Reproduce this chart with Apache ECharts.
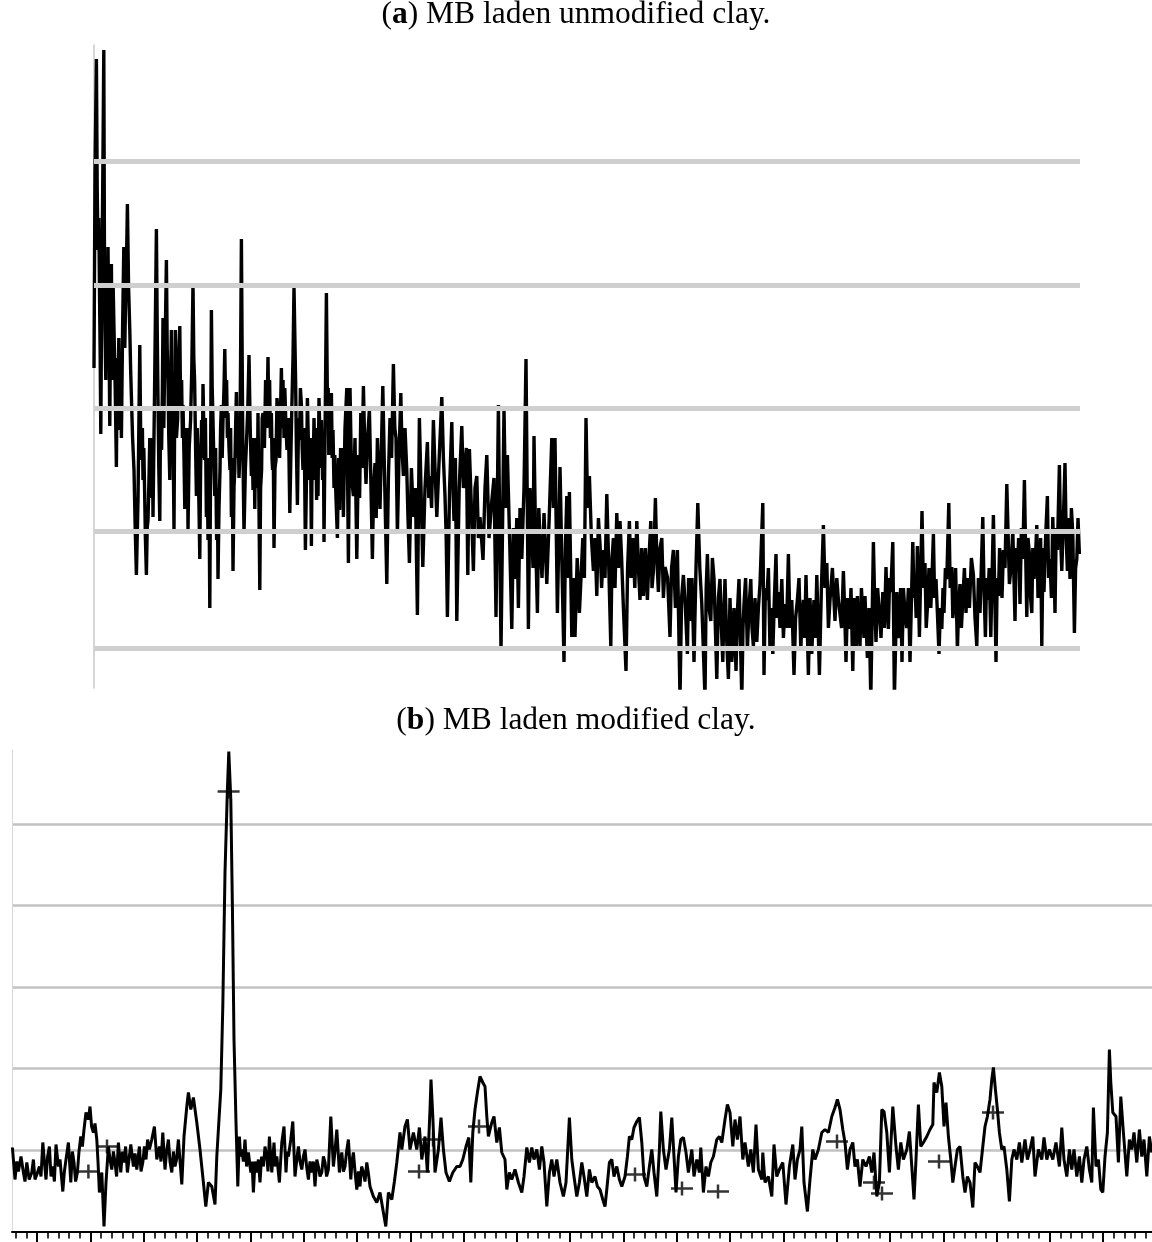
<!DOCTYPE html>
<html><head><meta charset="utf-8">
<script src="https://cdn.jsdelivr.net/npm/echarts@6/dist/echarts.min.js"></script>
<style>html,body{margin:0;padding:0;background:#fff}#c{width:1152px;height:1242px}</style>
</head><body><div id="c"></div>
<script>
const titleA = '({b|a}) MB laden unmodified clay.';
const titleB = '({b|b}) MB laden modified clay.';

// panel (a): [2θ, intensity]
const aPattern = [
[4.70,320],[4.75,515],[4.82,629],[4.86,500],[4.90,438],[4.94,470],[4.98,388],[5.01,330],[5.04,254],[5.08,380],[5.13,488],[5.16,560],[5.19,638],[5.22,450],[5.25,358],[5.29,308],[5.32,420],[5.35,388],[5.37,330],[5.40,441],[5.45,350],[5.49,262],[5.53,380],[5.57,424],[5.60,340],[5.63,308],[5.66,400],[5.70,358],[5.76,300],[5.82,221],[5.86,330],[5.90,291],[5.94,350],[5.98,258],[6.02,320],[6.07,250],[6.13,360],[6.19,441],[6.24,340],[6.28,388],[6.32,420],[6.37,484],[6.43,400],[6.49,358],[6.53,320],[6.57,291],[6.63,250],[6.70,218],[6.76,160],[6.82,113],[6.90,188],[6.99,343],[7.03,260],[7.08,228],[7.12,260],[7.15,208],[7.19,240],[7.23,198],[7.27,150],[7.32,113],[7.36,160],[7.40,168],[7.45,210],[7.49,250],[7.53,190],[7.58,208],[7.62,250],[7.65,171],[7.73,300],[7.82,459],[7.86,360],[7.90,288],[7.94,220],[7.99,167],[8.03,280],[8.08,238],[8.12,300],[8.15,370],[8.19,260],[8.23,318],[8.27,360],[8.32,428],[8.36,340],[8.40,308],[8.44,250],[8.49,208],[8.53,300],[8.57,358],[8.60,250],[8.63,288],[8.67,220],[8.70,158],[8.73,260],[8.77,358],[8.82,250],[8.88,268],[8.93,330],[8.99,362],[9.03,280],[9.08,308],[9.12,250],[9.15,283],[9.20,230],[9.24,179],[9.28,260],[9.33,218],[9.37,260],[9.40,158],[9.46,240],[9.53,268],[9.59,320],[9.65,405],[9.69,330],[9.73,308],[9.78,240],[9.82,192],[9.86,260],[9.90,228],[9.95,180],[9.99,129],[10.03,220],[10.08,268],[10.12,230],[10.15,304],[10.19,260],[10.23,228],[10.27,270],[10.32,171],[10.36,230],[10.40,148],[10.45,200],[10.49,80],[10.57,378],[10.61,300],[10.65,268],[10.70,220],[10.74,192],[10.78,240],[10.83,148],[10.87,200],[10.90,109],[10.95,180],[11.00,218],[11.03,260],[11.07,283],[11.11,230],[11.15,268],[11.20,300],[11.24,339],[11.29,270],[11.33,308],[11.37,250],[11.40,275],[11.45,240],[11.50,218],[11.53,260],[11.57,171],[11.61,230],[11.65,117],[11.70,200],[11.74,218],[11.78,260],[11.82,296],[11.86,230],[11.90,268],[11.95,210],[11.99,233],[12.03,330],[12.07,449],[12.13,268],[12.17,200],[12.20,154],[12.27,220],[12.33,248],[12.39,280],[12.45,333],[12.51,260],[12.57,212],[12.61,250],[12.65,198],[12.70,250],[12.74,179],[12.78,250],[12.83,228],[12.87,200],[12.90,275],[12.95,180],[12.99,98],[13.03,200],[13.08,218],[13.11,270],[13.15,275],[13.22,240],[13.28,308],[13.34,260],[13.40,331],[13.44,270],[13.48,308],[13.52,250],[13.57,275],[13.60,230],[13.63,218],[13.66,250],[13.70,140],[13.75,220],[13.80,228],[13.85,290],[13.90,275],[13.98,230],[14.07,320],[14.11,260],[14.15,308],[14.20,250],[14.24,300],[14.30,260],[14.35,238],[14.42,270],[14.49,175],[14.55,240],[14.60,288],[14.65,330],[14.70,401],[14.78,308],[14.82,240],[14.87,183],[14.93,270],[14.98,248],[15.02,300],[15.07,283],[15.11,240],[15.15,218],[15.21,260],[15.27,138],[15.33,218],[15.37,290],[15.40,262],[15.44,230],[15.48,208],[15.52,250],[15.57,142],[15.61,240],[15.65,208],[15.70,270],[15.74,233],[15.79,260],[15.83,188],[15.87,240],[15.90,192],[15.95,290],[16.00,248],[16.04,220],[16.07,268],[16.10,240],[16.13,208],[16.17,250],[16.20,146],[16.26,270],[16.32,395],[16.38,268],[16.41,300],[16.44,233],[16.50,250],[16.57,295],[16.61,230],[16.65,258],[16.70,200],[16.74,233],[16.80,190],[16.87,150],[16.93,230],[16.98,178],[17.03,240],[17.07,196],
[17.12,240],[17.17,171],[17.25,260],[17.34,300],[17.42,125],[17.50,300],[17.58,210],[17.67,192],[17.75,250],[17.84,129],[17.92,233],[17.98,190],[18.04,275],[18.10,220],[18.17,302],[18.24,240],[18.30,204],[18.38,250],[18.47,279],[18.55,200],[18.62,129],[18.68,200],[18.75,225],[18.81,170],[18.87,250],[18.94,210],[19.00,179],[19.07,240],[19.14,302],[19.24,200],[19.34,104],[19.42,210],[19.50,270],[19.58,230],[19.67,324],[19.74,260],[19.80,250],[19.87,154],[19.95,230],[20.04,295],[20.10,240],[20.17,212],[20.25,260],[20.34,217],[20.40,170],[20.47,125],[20.57,220],[20.67,171],[20.77,200],[20.87,73],[20.97,270],[21.05,200],[21.14,121],[21.25,200],[21.37,246],[21.44,190],[21.50,212],[21.58,180],[21.67,268],[21.75,220],[21.84,171],[21.96,230],[22.09,291],[22.17,230],[22.25,192],[22.31,150],[22.37,71],[22.48,200],[22.59,266],[22.65,200],[22.70,167],[22.77,230],[22.84,67],[22.96,200],[23.09,262],[23.17,200],[23.25,200],[23.32,240],[23.39,113],[23.47,239],[23.57,180],[23.67,117],[23.75,200],[23.84,212],[23.92,150],[24.00,171],[24.15,128],[24.25,200],[24.34,233],[24.45,150],[24.59,187],[24.70,210],[24.80,71],[24.92,283],[25.05,38],[25.20,279],[25.28,180],[25.37,233],[25.48,150],[25.59,59],[25.67,160],[25.75,109],[25.84,170],[25.92,80],[26.00,180],[26.09,129],[26.20,200],[26.30,329],[26.42,59],[26.50,200],[26.59,158],[26.65,120],[26.70,252],[26.78,150],[26.87,75],[26.94,180],[27.00,150],[27.10,110],[27.20,175],[27.27,140],[27.34,104],[27.46,170],[27.59,250],[27.67,180],[27.75,250],[27.87,75],[27.94,150],[28.00,221],[28.10,120],[28.20,26],[28.27,140],[28.34,192],[28.40,110],[28.47,196],[28.59,51],[28.67,110],[28.75,51],[28.86,130],[28.97,75],[29.05,110],[29.14,150],[29.22,110],[29.30,270],[29.38,180],[29.47,212],[29.57,150],
[29.67,117],[29.75,150],[29.84,92],[29.92,170],[30.00,144],[30.08,100],[30.17,138],[30.25,110],[30.34,194],[30.44,120],[30.54,42],[30.60,130],[30.67,150],[30.75,100],[30.84,175],[30.92,120],[31.00,167],[31.08,130],[31.17,80],[31.30,17],[31.38,120],[31.47,167],[31.55,110],[31.64,150],[31.74,100],[31.84,167],[31.92,120],[32.00,88],[32.08,140],[32.17,92],[32.27,140],[32.37,88],[32.45,130],[32.54,167],[32.60,100],[32.67,117],[32.77,190],[32.84,130],[32.92,96],[33.00,140],[33.09,150],[33.17,90],[33.25,121],[33.38,110],[33.50,51],[33.58,120],[33.67,138],[33.77,80],[33.87,138],[34.00,-10],[34.08,90],[34.17,113],[34.27,80],[34.37,34],[34.43,110],[34.50,67],[34.60,110],[34.70,26],[34.80,120],[34.89,185],[34.99,120],[35.09,84],[35.25,-10],[35.31,100],[35.37,134],[35.45,80],[35.54,67],[35.62,130],[35.70,109],[35.84,9],[35.92,90],[36.00,109],[36.07,60],[36.14,26],[36.20,80],[36.25,109],[36.33,50],[36.42,9],[36.50,90],[36.59,26],[36.70,80],[36.80,17],[36.88,80],[36.95,109],[37.09,-10],[37.15,60],[37.20,84],[37.28,110],[37.37,38],[37.45,80],[37.54,109],[37.60,60],[37.67,42],[37.75,90],[37.84,46],[37.92,80],[38.00,104],[38.14,185],[38.20,13],[38.27,100],[38.34,88],[38.42,120],[38.50,38],[38.57,80],[38.64,34],[38.72,90],[38.80,134],[38.86,70],[38.92,96],[39.00,60],[39.09,109],[39.17,50],[39.25,84],[39.33,60],[39.42,134],[39.50,60],[39.59,88],[39.70,13],[39.78,70],[39.87,88],[39.95,110],[40.04,38],[40.10,70],[40.17,88],[40.23,50],[40.30,113],[40.42,13],[40.50,90],[40.59,34],[40.65,70],[40.70,88],[40.77,50],[40.84,113],[40.97,13],[41.07,100],[41.17,163],[41.25,100],[41.34,125],[41.42,60],[41.50,88],[41.62,120],[41.75,67],[41.84,110],[41.92,88],
[42.00,88],[42.08,60],[42.17,117],[42.23,80],[42.30,26],[42.38,90],[42.47,59],[42.55,100],[42.64,17],[42.70,90],[42.75,67],[42.81,40],[42.87,92],[42.93,60],[43.00,42],[43.07,100],[43.14,75],[43.20,50],[43.25,92],[43.31,60],[43.37,30],[43.45,80],[43.54,-10],[43.67,146],[43.73,90],[43.80,46],[43.88,100],[43.97,75],[44.05,50],[44.14,96],[44.22,60],[44.30,121],[44.36,80],[44.42,59],[44.48,110],[44.54,96],[44.64,146],[44.72,-10],[44.84,96],[44.90,50],[44.97,67],[45.03,100],[45.10,26],[45.17,100],[45.25,75],[45.33,60],[45.42,100],[45.50,26],[45.64,146],[45.70,90],[45.75,104],[45.81,70],[45.87,142],[45.97,51],[46.10,177],[46.17,100],[46.25,125],[46.31,60],[46.37,80],[46.45,120],[46.54,80],[46.60,110],[46.67,154],[46.73,90],[46.80,109],[46.88,70],[46.95,34],[47.02,80],[47.09,59],[47.15,100],[47.20,75],[47.27,120],[47.34,109],[47.44,185],[47.51,100],[47.59,121],[47.64,70],[47.70,84],[47.78,120],[47.87,38],[47.93,80],[48.00,104],[48.07,60],[48.14,88],[48.22,120],[48.30,75],[48.38,110],[48.47,80],[48.57,130],[48.67,113],[48.75,70],[48.84,42],[48.92,110],[49.00,75],[49.14,171],[49.20,100],[49.27,51],[49.33,110],[49.39,88],[49.46,120],[49.54,51],[49.67,173],[49.80,26],[49.86,110],[49.92,92],[49.98,140],[50.04,121],[50.10,90],[50.17,138],[50.25,120],[50.34,204],[50.47,104],[50.55,120],[50.64,158],[50.75,67],[50.81,140],[50.87,117],[50.93,150],[51.00,84],[51.07,160],[51.14,129],[51.22,208],[51.34,71],[51.40,150],[51.47,134],[51.53,90],[51.59,75],[51.64,140],[51.70,109],[51.77,130],[51.84,163],[51.90,90],[51.97,109],[52.03,150],[52.09,42],[52.15,140],[52.20,96],[52.28,150],[52.37,192],[52.43,110],[52.50,129],[52.57,90],[52.64,171],[52.70,120],[52.75,75],[52.81,160],[52.87,138],[52.97,223],[53.03,150],[53.09,117],[53.17,170],[53.25,225],[53.31,150],[53.37,117],[53.43,170],[53.50,109],[53.57,180],[53.64,154],[53.72,55],[53.78,120],[53.84,129],[53.90,170],[53.97,134]
];
const aGridLevels = [526.5, 403.2, 280, 157, 39.3];

// panel (b): [2θ, intensity]
const bPattern = [
[0.62,84],[0.75,52],[0.84,70],[0.92,60],[1.05,75],[1.17,59],[1.25,50],[1.34,69],[1.46,52],[1.59,59],[1.67,72],[1.75,52],[1.86,58],[1.97,65],[2.05,55],[2.14,89],[2.22,70],[2.30,52],[2.38,75],[2.47,85],[2.55,55],[2.64,65],[2.72,50],[2.80,87],[2.92,65],[3.00,72],[3.14,40],[3.22,60],[3.30,72],[3.42,89],[3.54,49],[3.62,80],[3.70,69],[3.78,50],[3.87,59],[3.95,80],[4.04,95],[4.12,85],[4.20,102],[4.30,119],[4.42,112],[4.50,125],[4.58,105],[4.67,99],[4.75,108],[4.84,92],[4.90,70],[4.97,39],[5.09,59],[5.20,5],[5.30,49],[5.42,85],[5.50,72],[5.59,62],[5.67,80],[5.75,69],[5.83,55],[5.92,89],[6.04,59],[6.12,80],[6.20,69],[6.28,85],[6.37,59],[6.45,72],[6.54,87],[6.67,65],[6.75,78],[6.84,62],[6.97,85],[7.05,60],[7.14,69],[7.22,85],[7.30,72],[7.38,92],[7.47,82],[7.59,92],[7.72,105],[7.84,72],[7.97,85],[8.05,70],[8.14,99],[8.25,62],[8.33,80],[8.42,92],[8.50,70],[8.59,59],[8.67,80],[8.75,65],[8.83,72],[8.92,92],[9.09,47],[9.20,95],[9.34,125],[9.42,139],[9.54,122],[9.67,134],[9.84,109],[10.00,82],[10.17,49],[10.29,25],[10.42,49],[10.59,45],[10.75,27],[10.84,75],[10.92,102],[11.04,142],[11.14,225],[11.25,359],[11.37,442],[11.44,480],[11.54,432],[11.62,325],[11.70,192],[11.80,109],[11.89,45],[11.97,95],[12.03,75],[12.09,82],[12.17,70],[12.25,92],[12.33,65],[12.42,79],[12.54,59],[12.60,70],[12.67,39],[12.75,70],[12.84,59],[12.92,72],[13.00,49],[13.08,75],[13.17,65],[13.25,85],[13.34,75],[13.40,60],[13.47,95],[13.59,59],[13.70,89],[13.77,65],[13.84,75],[13.97,49],[14.03,70],[14.09,89],[14.20,105],[14.30,59],[14.36,80],[14.42,75],[14.54,92],[14.64,110],[14.75,55],[14.84,72],[14.92,85],[15.00,70],[15.09,62],[15.17,75],[15.25,82],[15.33,65],[15.42,52],[15.50,70],[15.59,59],[15.67,70],[15.75,45],[15.84,72],[15.92,65],[16.00,55],[16.09,59],[16.17,75],[16.25,69],[16.33,55],[16.42,62],[16.54,115],[16.67,65],[16.75,80],[16.84,102],[16.97,59],[17.03,72],[17.09,79],[17.17,60],[17.25,65],[17.33,80],[17.42,92],[17.54,52],[17.60,70],[17.67,79],[17.75,60],[17.84,42],[17.92,60],[18.00,45],[18.08,65],[18.17,59],[18.25,50],[18.34,69],[18.42,58],[18.50,45],[18.67,35],[18.84,29],[19.00,39],[19.17,19],[19.29,5],[19.42,39],[19.59,32],[19.72,50],[19.84,69],[20.00,99],[20.09,82],[20.25,105],[20.37,112],[20.50,82],[20.67,99],[20.84,82],[20.97,104],[21.09,72],[21.25,95],[21.37,59],[21.50,122],[21.55,152],[21.64,115],[21.75,59],[21.92,82],[22.05,114],[22.17,82],[22.30,59],[22.47,50],[22.64,59],[22.84,65],[23.00,65],[23.14,72],[23.30,85],[23.44,94],[23.54,49],[23.64,99],[23.75,122],[23.87,139],[24.00,155],[24.14,149],[24.25,145],[24.34,115],[24.42,95],[24.59,109],[24.70,115],[24.84,89],[24.97,104],[25.09,79],[25.25,72],[25.34,42],[25.47,59],[25.59,52],[25.75,62],[25.92,49],[26.09,39],[26.20,55],[26.34,84],[26.47,69],[26.59,84],[26.70,72],[26.84,82],[26.97,62],[27.09,85],[27.20,69],[27.34,25],[27.47,59],[27.59,72],[27.70,55],[27.84,72],[28.00,49],[28.17,35],[28.30,49],[28.47,114],[28.59,72],[28.70,55],[28.84,35],[28.97,49],[29.09,69],[29.20,55],[29.34,35],[29.47,62],[29.59,49],[29.75,55],[29.87,45],[30.00,42],[30.14,32],[30.25,25],[30.34,42],[30.47,69],[30.59,72],[30.70,55],[30.84,65],[30.97,52],[31.09,45],[31.25,55],[31.37,75],[31.47,95],[31.59,92],[31.70,104],[31.84,110],[31.97,114],[32.09,89],[32.20,55],[32.34,45],[32.47,65],[32.59,82],[32.70,59],[32.84,35],[32.97,82],[33.04,120],[33.17,82],[33.30,62],[33.47,82],[33.59,114],[33.70,75],[33.80,39],[33.92,75],[34.04,92],[34.17,94],[34.30,79],[34.42,59],[34.59,82],[34.70,55],[34.84,72],[34.97,59],[35.04,84],[35.17,39],[35.30,65],[35.42,55],[35.54,69],[35.67,75],[35.84,92],[35.97,95],[36.09,89],[36.25,112],[36.37,127],[36.50,119],[36.64,85],[36.75,112],[36.87,92],[37.00,115],[37.14,72],[37.25,89],[37.42,65],[37.54,82],[37.67,59],[37.80,107],[37.92,62],[38.09,52],[38.14,79],[38.25,49],[38.42,55],[38.59,35],[38.70,87],[38.84,55],[38.97,62],[39.14,69],[39.30,27],[39.47,65],[39.64,87],[39.75,52],[39.87,72],[40.00,82],[40.09,105],[40.20,49],[40.37,20],[40.50,52],[40.64,82],[40.75,72],[40.92,82],[41.09,99],[41.25,102],[41.42,99],[41.59,115],[41.75,124],[41.87,132],[42.00,122],[42.14,102],[42.25,89],[42.37,62],[42.50,82],[42.64,89],[42.75,65],[42.87,72],[43.00,45],[43.14,72],[43.30,65],[43.47,75],[43.59,59],[43.70,79],[43.84,35],[43.97,49],[44.09,122],[44.20,120],[44.34,99],[44.47,59],[44.64,125],[44.80,85],[44.92,62],[45.04,89],[45.17,72],[45.34,82],[45.47,100],[45.59,65],[45.70,32],[45.80,72],[45.92,127],[46.04,85],[46.17,89],[46.34,95],[46.50,102],[46.64,107],[46.70,149],[46.84,139],[46.97,159],[47.09,145],[47.20,105],[47.30,129],[47.42,95],[47.54,72],[47.64,49],[47.75,65],[47.87,82],[48.00,85],[48.14,55],[48.25,39],[48.37,55],[48.50,49],[48.64,24],[48.75,69],[48.87,65],[49.00,59],[49.14,85],[49.25,105],[49.37,115],[49.50,132],[49.59,152],[49.67,164],[49.77,142],[49.87,122],[49.97,99],[50.09,82],[50.20,85],[50.34,62],[50.47,30],[50.59,72],[50.70,82],[50.84,72],[50.97,89],[51.09,69],[51.25,92],[51.37,72],[51.50,82],[51.64,95],[51.75,55],[51.92,82],[52.09,72],[52.20,94],[52.34,72],[52.47,82],[52.64,72],[52.80,89],[52.97,65],[53.09,104],[53.20,72],[53.34,55],[53.47,82],[53.59,62],[53.70,82],[53.84,55],[53.97,75],[54.09,49],[54.20,72],[54.34,85],[54.47,62],[54.59,49],[54.67,124],[54.80,65],[54.92,72],[55.04,42],[55.14,39],[55.25,75],[55.37,99],[55.47,182],[55.54,149],[55.64,119],[55.80,115],[55.92,69],[56.04,135],[56.17,99],[56.34,55],[56.47,92],[56.59,82],[56.70,99],[56.84,69],[56.97,102],[57.09,75],[57.20,92],[57.34,55],[57.47,95],[57.59,79]
];
// reference peak markers (+) in panel (b)
const bRefPeaks = [[11.43,440],[4.42,60],[5.35,85],[20.95,60],[21.65,92],[23.95,105],[31.75,57],[34.10,43],[35.90,40],[41.85,90],[43.70,49],[44.10,38],[46.95,70],[49.65,119]];

// x-axis tick layout of panel (b): major every 5 minor steps
const bTickFirst = 1.86, bMinorStep = 0.533, bMinorPerMajor = 5;
const bMin = 0.6, bMax = 57.6;
const bMajorTicks = [], bMinorTicks = [];
for (let k = -3; k < 120; k++) {
  const v = +(bTickFirst + k * bMinorStep).toFixed(3);
  if (v <= bMin || v >= bMax) continue;
  if (((k % bMinorPerMajor) + bMinorPerMajor) % bMinorPerMajor === 0) bMajorTicks.push(v);
  else bMinorTicks.push(v);
}

const chart = echarts.init(document.getElementById('c'), null, {renderer: 'canvas'});
const serif = 'Liberation Serif, Times New Roman, serif';
const titleStyle = {fontFamily: serif, fontSize: 31.5, fontWeight: 'normal', color: '#000',
  rich: {b: {fontFamily: serif, fontSize: 31.5, fontWeight: 'bold', color: '#000'}}};
chart.setOption({
  animation: false,
  backgroundColor: '#fff',
  title: [
    {text: titleA, left: 'center', top: -1, padding: 0, textStyle: titleStyle},
    {text: titleB, left: 'center', top: 705, padding: 0, textStyle: titleStyle}
  ],
  grid: [
    {left: 94, top: 45, width: 986, height: 643},
    {left: 12, top: 750, width: 1140, height: 481.5}
  ],
  xAxis: [
    {gridIndex: 0, type: 'value', min: 4.7, max: 54.0, show: false},
    {gridIndex: 1, type: 'value', min: bMin, max: bMax, position: 'bottom',
      axisLine: {show: true, onZero: false, lineStyle: {color: '#000', width: 2}},
      axisTick: {show: true, customValues: bMajorTicks, length: 11, lineStyle: {color: '#000', width: 2}},
      axisLabel: {show: false}, splitLine: {show: false}},
    {gridIndex: 1, type: 'value', min: bMin, max: bMax, position: 'bottom',
      axisLine: {show: false, onZero: false},
      axisTick: {show: true, customValues: bMinorTicks, length: 7, lineStyle: {color: '#000', width: 1.6}},
      axisLabel: {show: false}, splitLine: {show: false}}
  ],
  yAxis: [
    {gridIndex: 0, type: 'value', min: 0, max: 643,
      axisLine: {show: true, lineStyle: {color: '#c8c8c8', width: 1.5}},
      axisTick: {show: false}, axisLabel: {show: false}, splitLine: {show: false}},
    {gridIndex: 1, type: 'value', min: 0, max: 481.5, interval: 81.5,
      axisLine: {show: true, lineStyle: {color: '#d8d8d8', width: 1}},
      axisTick: {show: false}, axisLabel: {show: false},
      splitLine: {show: true, showMinLine: false, showMaxLine: false, lineStyle: {color: '#c2c2c2', width: 2.5}}}
  ],
  series: [
    {type: 'line', xAxisIndex: 0, yAxisIndex: 0, data: [], z: 1,
      markLine: {silent: true, symbol: 'none', label: {show: false}, animation: false,
        lineStyle: {color: '#cfcfcf', width: 5, type: 'solid'},
        data: aGridLevels.map(v => ({yAxis: v}))}},
    {type: 'line', xAxisIndex: 0, yAxisIndex: 0, data: aPattern, symbol: 'none', z: 3,
      lineStyle: {color: '#000', width: 3.4}},
    {type: 'line', xAxisIndex: 1, yAxisIndex: 1, data: bPattern, symbol: 'none', z: 3,
      lineStyle: {color: '#000', width: 3}},
    {type: 'scatter', xAxisIndex: 1, yAxisIndex: 1, data: bRefPeaks, z: 5,
      symbol: 'path://M0,5.75H22V8.25H0Z M9.75,0H12.25V14H9.75Z', symbolSize: [22, 14],
      itemStyle: {color: '#000'}}
  ]
});
</script></body></html>
